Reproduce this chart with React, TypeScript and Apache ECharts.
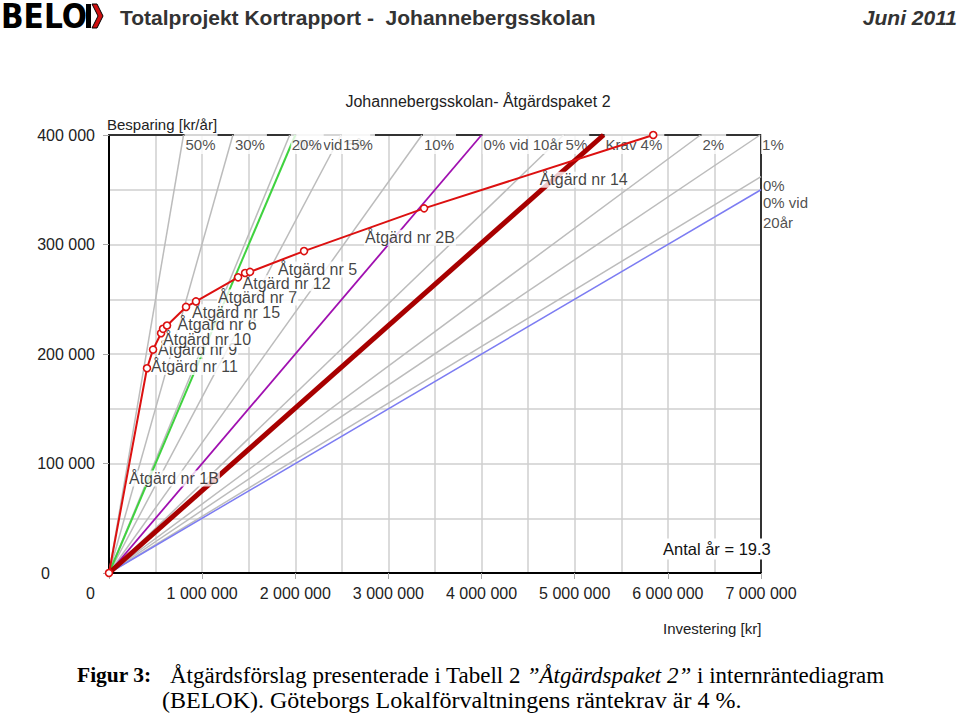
import React, { useEffect, useRef } from "react";
import * as echarts from "echarts";

// ---- data ----
// grey internal-rate lines (life 19.3 years): end point of each line
const grayRateNames = ["50%", "30%", "20%", "15%", "10%", "5%", "2%", "1%", "0%"];
const grayRateEndInvest = [800000, 1330000, 1940000, 2490000, 3360000, 4880000, 6350000, 6990000, 7000000];
const grayRateEndSaving = [400000, 400000, 400000, 400000, 400000, 400000, 400000, 400000, 362000];

// coloured reference lines
const specialNames = ["0% vid 5år", "0% vid 10år", "Krav 4%", "0% vid 20år"];
const specialEndInvest = [2000000, 4000000, 5310000, 7000000];
const specialEndSaving = [400000, 400000, 400000, 350000];

// cumulative action curve (investment kr, saving kr/år)
const actionInvest = [0, 408000, 473000, 559000, 580000, 623000, 827000, 934000, 1386000, 1461000, 1514000, 2094000, 3383000, 5843000];
const actionSaving = [0, 187000, 204000, 219000, 223000, 226000, 243000, 248000, 270000, 274000, 275000, 294000, 333000, 400000];
// one label per segment of the curve ("" = not visible)
const segmentLabels = ["Åtgärd nr 1B", "Åtgärd nr 11", "Åtgärd nr 9", "Åtgärd nr 10", "", "Åtgärd nr 6", "Åtgärd nr 15", "Åtgärd nr 7", "Åtgärd nr 12", "", "Åtgärd nr 5", "Åtgärd nr 2B", "Åtgärd nr 14"];

// drawing order of the rate labels
const rateLabelOrder = ["50%", "30%", "0% vid 5år", "20%", "15%", "10%", "0% vid 10år", "5%", "Krav 4%", "2%", "1%", "0% vid 20år", "0%"];

const xTickLabels = ["0", "1 000 000", "2 000 000", "3 000 000", "4 000 000", "5 000 000", "6 000 000", "7 000 000"];
const yTickLabels = ["0", "100 000", "200 000", "300 000", "400 000"];

const FONT = "'Liberation Sans', Arial, sans-serif";
const SERIF = "'Liberation Serif', 'Times New Roman', serif";

export default function App() {
  const ref = useRef<HTMLDivElement>(null);
  useEffect(() => {
    if (!ref.current) return;
    const chart = echarts.init(ref.current, undefined, { renderer: "svg" });

    const allNames = [...grayRateNames, ...specialNames];
    const allX = [...grayRateEndInvest, ...specialEndInvest];
    const allY = [...grayRateEndSaving, ...specialEndSaving];

    const rateLabelData = rateLabelOrder.map((n) => {
      const i = allNames.indexOf(n);
      const atTop = allY[i] >= 400000;
      const text = n === "0% vid 20år" ? "0% vid\n20år" : n;
      return {
        value: [allX[i], allY[i]],
        name: text,
        label: atTop
          ? { position: [1, -2], padding: [3, 2, 1, 1], lineHeight: 17 }
          : n === "0%"
          ? { position: [1, 0], padding: [1, 2, 1, 1], lineHeight: 16 }
          : { position: [1, 2], padding: [1, 2, 1, 1], lineHeight: 20 },
      };
    });

    const actionLabelData: any[] = [];
    for (let i = 0; i < segmentLabels.length; i++) {
      if (!segmentLabels[i]) continue;
      actionLabelData.push({
        value: [(actionInvest[i] + actionInvest[i + 1]) / 2, (actionSaving[i] + actionSaving[i + 1]) / 2],
        name: segmentLabels[i],
      });
    }

    const series: any[] = [];
    grayRateNames.forEach((n, i) => {
      series.push({
        type: "line",
        name: n,
        data: [[0, 0], [grayRateEndInvest[i], grayRateEndSaving[i]]],
        showSymbol: false,
        symbol: "none",
        lineStyle: { color: "#bcbcbc", width: 1.5 },
        z: 2,
        silent: true,
      });
    });
    const specialStyles = [
      { color: "#3fd23f", width: 2 },
      { color: "#a010b0", width: 1.8 },
      { color: "#a80000", width: 5 },
      { color: "#7c7cf2", width: 1.5 },
    ];
    specialNames.forEach((n, i) => {
      series.push({
        type: "line",
        name: n,
        data: [[0, 0], [specialEndInvest[i], specialEndSaving[i]]],
        showSymbol: false,
        symbol: "none",
        lineStyle: specialStyles[i],
        z: n === "Krav 4%" ? 4 : 2,
        silent: true,
      });
    });
    series.push({
      type: "scatter",
      name: "rateLabels",
      data: rateLabelData,
      symbolSize: 0,
      z: 3,
      clip: false,
      silent: true,
      label: {
        show: true,
        formatter: "{b}",
        color: "#222",
        fontFamily: FONT,
        fontSize: 15,
        backgroundColor: "#fff",
        align: "left",
        verticalAlign: "top",
      },
    });
    series.push({
      type: "scatter",
      name: "actionLabels",
      data: actionLabelData,
      symbolSize: 0,
      z: 6,
      clip: false,
      silent: true,
      label: {
        show: true,
        position: [0, 0],
        formatter: "{b}",
        color: "#111",
        fontFamily: FONT,
        fontSize: 16,
        lineHeight: 16,
        padding: [0, 1, 0, 1],
        backgroundColor: "#fff",
        align: "left",
        verticalAlign: "top",
      },
    });
    series.push({
      type: "line",
      name: "Åtgärder",
      data: actionInvest.map((x, i) => [x, actionSaving[i]]),
      symbol: "circle",
      symbolSize: 7,
      showSymbol: true,
      clip: false,
      lineStyle: { color: "#dc1010", width: 2 },
      itemStyle: { color: "#fff", borderColor: "#dc1010", borderWidth: 1.6 },
      z: 7,
      silent: true,
    });

    const gridLine = { show: true, lineStyle: { color: "#cfcfcf", width: 1.5 } };
    const labelStyle = { color: "#222", fontFamily: FONT, fontSize: 16 };

    const txt = (x: number, y: number, text: string, font: string, align: string, extra: any = {}) => ({
      type: "text",
      x,
      y,
      z: 20,
      style: { text, fill: "#222", font, align, verticalAlign: "middle", textAlign: align, textVerticalAlign: "middle", ...extra },
    });

    chart.setOption({
      animation: false,
      backgroundColor: "#fff",
      grid: { left: 109, right: 198, top: 135, bottom: 145, containLabel: false },
      xAxis: [
        {
          type: "value",
          min: 0,
          max: 7000000,
          interval: 1000000,
          position: "bottom",
          axisLine: { show: true, onZero: false, lineStyle: { color: "#000", width: 2 } },
          axisTick: { show: true, length: 6, lineStyle: { color: "#aaa", width: 1 } },
          axisLabel: {
            ...labelStyle,
            margin: 12,
            formatter: (v: number) => {
              const t = xTickLabels[Math.round(v / 1000000)];
              return v === 0 ? "{z|" + t + "}" : t;
            },
            rich: { z: { ...labelStyle, padding: [0, 37, 0, 0] } },
          },
          splitLine: gridLine,
          minorTick: { show: false, splitNumber: 2 },
          minorSplitLine: gridLine,
        },
        {
          type: "value",
          min: 0,
          max: 7000000,
          position: "top",
          axisLine: { show: true, onZero: false, lineStyle: { color: "#333", width: 2 } },
          axisTick: { show: false },
          axisLabel: { show: false },
          splitLine: { show: false },
        },
      ],
      yAxis: [
        {
          type: "value",
          min: 0,
          max: 400000,
          interval: 100000,
          position: "left",
          axisLine: { show: true, onZero: false, lineStyle: { color: "#000", width: 2 } },
          axisTick: { show: true, length: 6, lineStyle: { color: "#aaa", width: 1 } },
          axisLabel: {
            ...labelStyle,
            margin: 14,
            formatter: (v: number) => {
              const t = yTickLabels[Math.round(v / 100000)];
              return v === 0 ? "{z|" + t + "}" : t;
            },
            rich: { z: { ...labelStyle, padding: [0, 45, 0, 0] } },
          },
          splitLine: gridLine,
          minorTick: { show: false, splitNumber: 2 },
          minorSplitLine: gridLine,
        },
        {
          type: "value",
          min: 0,
          max: 400000,
          position: "right",
          axisLine: { show: true, onZero: false, lineStyle: { color: "#333", width: 2 } },
          axisTick: { show: false },
          axisLabel: { show: false },
          splitLine: { show: false },
        },
      ],
      series,
      graphic: {
        elements: [
          txt(1, 16, "BELO", "bold 33px 'DejaVu Sans Condensed', sans-serif", "left", { fill: "#000" }),
          { type: "rect", z: 20, shape: { x: 86, y: 4, width: 5, height: 24 }, style: { fill: "#000" } },
          {
            type: "polygon",
            z: 20,
            shape: { points: [[92, 4], [97, 4], [103, 16], [97, 28], [92, 28], [98, 16]] },
            style: { fill: "#d01010", stroke: "#000", lineWidth: 1 },
          },
          txt(120, 17, "Totalprojekt Kortrapport -  Johannebergsskolan", "bold 21px " + FONT, "left", { fill: "#333" }),
          txt(957, 17, "Juni 2011", "italic bold 21px " + FONT, "right", { fill: "#333" }),
          txt(478, 101, "Johannebergsskolan- Åtgärdspaket 2", "16px " + FONT, "center"),
          txt(107, 124, "Besparing [kr/år]", "15px " + FONT, "left"),
          txt(663, 628, "Investering [kr]", "15px " + FONT, "left"),
          txt(662, 549, "Antal år = 19.3", "16.5px " + FONT, "left", { fill: "#111", backgroundColor: "#fff", padding: [2, 2, 2, 1] }),
          txt(77, 675, "Figur 3:", "bold 21.5px " + SERIF, "left", { fill: "#000" }),
          txt(170, 675, "Åtgärdsförslag presenterade i Tabell 2 {i|”Åtgärdspaket 2”} i internräntediagram", "23px " + SERIF, "left", {
            fill: "#000",
            fontFamily: SERIF,
            fontSize: 23,
            rich: { i: { fontStyle: "italic", fontFamily: SERIF, fontSize: 23, fill: "#000" } },
          }),
          txt(162, 700, "(BELOK). Göteborgs Lokalförvaltningens räntekrav är 4 %.", "24px " + SERIF, "left", { fill: "#000" }),
        ],
      },
    });
    return () => chart.dispose();
  }, []);
  return <div ref={ref} style={{ position: "absolute", left: 0, top: 0, width: 959, height: 718 }} />;
}
